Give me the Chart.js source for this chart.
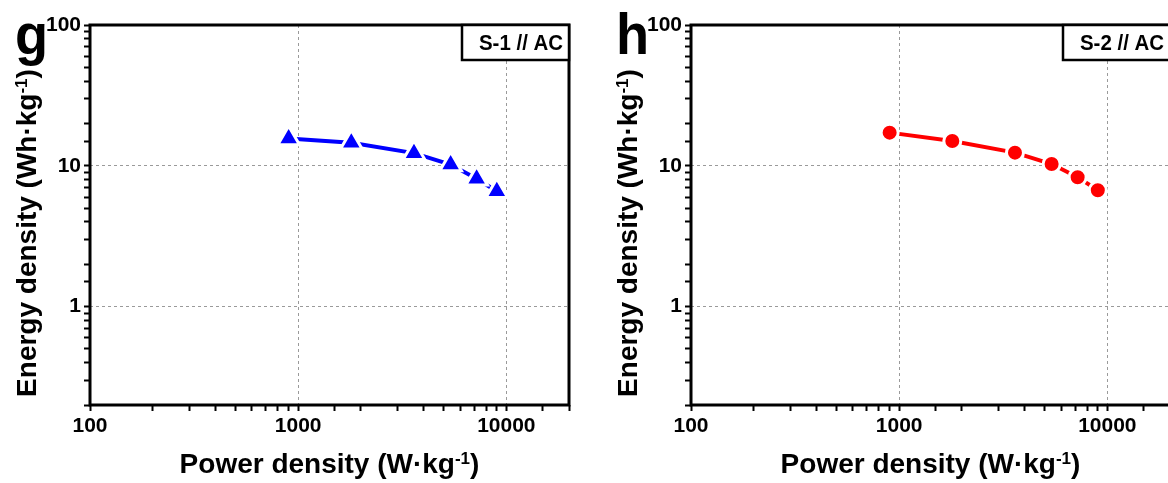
<!DOCTYPE html>
<html lang="en">
<head>
<meta charset="UTF-8" />
<title>Ragone plots - S-1 // AC and S-2 // AC</title>
<script src="https://cdn.jsdelivr.net/npm/chart.js"></script>
<style>
  html, body { margin: 0; padding: 0; background: #fff; overflow: hidden; }
  body { width: 1168px; height: 483px; position: relative; }
  .panel { position: absolute; top: 0; width: 601px; height: 483px; }
  #panelG { left: 0; }
  #panelH { left: 601px; }
</style>
</head>
<body>
<div class="panel" id="panelG"><canvas id="chartG" width="601" height="483"></canvas></div>
<div class="panel" id="panelH"><canvas id="chartH" width="601" height="483"></canvas></div>
<script>
  // power density (W/kg), same for both devices
  const powerDensity = [900, 1800, 3600, 5400, 7200, 9000];
  // energy density (Wh/kg)
  const energyS1 = [15.6, 14.6, 12.3, 10.2, 8.1, 6.6];
  const energyS2 = [17.2, 15.0, 12.4, 10.3, 8.3, 6.7];

  const xTickLabels = [100, 1000, 10000];
  const yTickLabels = [1, 10, 100];
  const xGridAt = [1000, 10000];
  const yGridAt = [1, 10];

  const xTitle = ['Power density (W·kg', '-1', ')'];
  const yTitle = ['Energy density (Wh·kg', '-1', ')'];

  const FONT = "'Liberation Sans', Arial, sans-serif";

  const panels = [
    { id: 'chartG', letter: 'g', tag: 'S-1 // AC', color: '#0000ff', marker: 'triangle', radius: 12.5, values: energyS1 },
    { id: 'chartH', letter: 'h', tag: 'S-2 // AC', color: '#ff0000', marker: 'circle', radius: 8.5, values: energyS2 }
  ];

  function hasValue(list, v) {
    return list.some(t => Math.abs(v - t) / t < 1e-6);
  }

  // axis title with a superscript part
  function drawRich(ctx, parts, x, y, angle) {
    const mainFont = 'bold 28px ' + FONT;
    const supFont = 'bold 17px ' + FONT;
    ctx.save();
    ctx.translate(x, y);
    ctx.rotate(angle);
    ctx.textAlign = 'left';
    ctx.textBaseline = 'alphabetic';
    ctx.font = mainFont;
    const w0 = ctx.measureText(parts[0]).width;
    const w2 = ctx.measureText(parts[2]).width;
    ctx.font = supFont;
    const w1 = ctx.measureText(parts[1]).width;
    let cx = -(w0 + w1 + w2) / 2;
    ctx.fillStyle = '#000';
    ctx.font = mainFont;
    ctx.fillText(parts[0], cx, 0);
    cx += w0;
    ctx.font = supFont;
    ctx.fillText(parts[1], cx, -9);
    cx += w1;
    ctx.font = mainFont;
    ctx.fillText(parts[2], cx, 0);
    ctx.restore();
  }

  const panelDecor = {
    id: 'panelDecor',
    afterDraw(chart, args, opts) {
      const { ctx, chartArea: a } = chart;
      ctx.save();
      // axis frame
      ctx.strokeStyle = '#000';
      ctx.lineWidth = 3;
      ctx.strokeRect(a.left, a.top, a.right - a.left, a.bottom - a.top);
      // sample tag box
      ctx.fillStyle = '#fff';
      ctx.fillRect(a.right - 107, a.top, 107, 35);
      ctx.lineWidth = 2.5;
      ctx.strokeRect(a.right - 107, a.top, 107, 35);
      ctx.fillStyle = '#000';
      ctx.translate(a.right - 48, a.top + 25);
      ctx.scale(0.93, 1);
      ctx.font = 'bold 22px ' + FONT;
      ctx.textAlign = 'center';
      ctx.textBaseline = 'alphabetic';
      ctx.fillText(opts.tag, 0, 0);
      ctx.restore();

      drawRich(ctx, xTitle, (a.left + a.right) / 2, a.bottom + 68, 0);
      drawRich(ctx, yTitle, 36, (a.top + a.bottom) / 2 + 18, -Math.PI / 2);

      ctx.save();
      ctx.fillStyle = '#000';
      ctx.translate(15, 54);
      ctx.scale(0.95, 1);
      ctx.font = 'bold 57px ' + FONT;
      ctx.textAlign = 'left';
      ctx.textBaseline = 'alphabetic';
      ctx.fillText(opts.letter, 0, 0);
      ctx.restore();
    }
  };

  function logAxis(min, max, labels, gridAt, fit) {
    return {
      type: 'logarithmic',
      min: min,
      max: max,
      afterFit: fit,
      border: { display: false, dash: [3, 3] },
      grid: {
        color: c => (c.tick && hasValue(gridAt, c.tick.value)) ? '#9a9a9a' : 'rgba(0,0,0,0)',
        lineWidth: 1,
        tickColor: '#000',
        tickLength: 6,
        tickWidth: 2,
        tickBorderDash: []
      },
      ticks: {
        autoSkip: false,
        maxRotation: 0,
        padding: 3,
        color: '#000',
        font: { family: FONT, size: 21, weight: 'bold' },
        callback: v => hasValue(labels, v) ? String(v) : ''
      }
    };
  }

  panels.forEach(p => {
    new Chart(document.getElementById(p.id), {
      type: 'scatter',
      data: {
        datasets: [{
          label: p.tag,
          data: powerDensity.map((x, i) => ({ x: x, y: p.values[i] })),
          showLine: true,
          borderColor: p.color,
          borderWidth: 4,
          backgroundColor: p.color,
          pointStyle: p.marker,
          pointRadius: p.radius,
          pointHoverRadius: p.radius,
          pointBackgroundColor: p.color,
          pointBorderColor: '#fff',
          pointBorderWidth: 3,
          tension: 0
        }]
      },
      options: {
        responsive: false,
        animation: false,
        devicePixelRatio: 1,
        layout: { padding: { top: 25, right: 32, left: 0, bottom: 0 } },
        plugins: {
          legend: { display: false },
          tooltip: { enabled: false },
          panelDecor: { letter: p.letter, tag: p.tag }
        },
        scales: {
          x: logAxis(100, 20000, xTickLabels, xGridAt, s => { s.height = 78; }),
          y: logAxis(0.2, 100, yTickLabels, yGridAt, s => { s.width = 90; })
        }
      },
      plugins: [panelDecor]
    });
  });
</script>
</body>
</html>
